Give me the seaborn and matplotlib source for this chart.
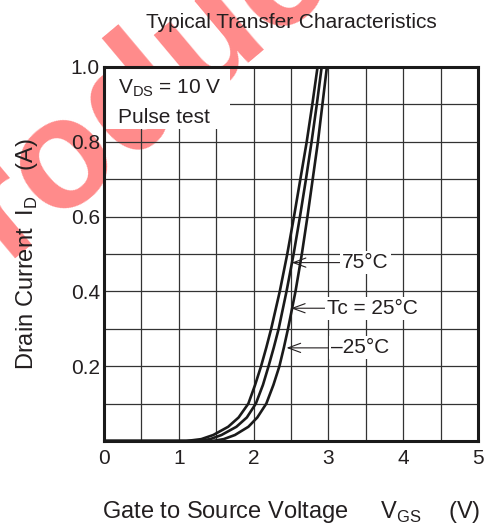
import numpy as np
import pandas as pd
import matplotlib
matplotlib.use('Agg')
import matplotlib.pyplot as plt
import seaborn as sns
from matplotlib.patches import Rectangle

# Данные (ток стока, А и напряжение затвор-исток, В)
current = [0, 0, 0.005, 0.016, 0.038, 0.063, 0.1, 0.15, 0.2, 0.25, 0.3, 0.4, 0.5, 0.6, 0.7, 0.8, 0.9, 1.0]
vgs_75 = [0, 1.10, 1.30, 1.46, 1.66, 1.80, 1.93, 2.02, 2.10, 2.17, 2.235, 2.35, 2.45, 2.54, 2.625, 2.71, 2.785, 2.855]
vgs_25 = [0, 1.25, 1.42, 1.57, 1.77, 1.91, 2.03, 2.125, 2.20, 2.27, 2.335, 2.44, 2.535, 2.62, 2.70, 2.775, 2.845, 2.91]
vgs_m25 = [0, 1.45, 1.60, 1.75, 1.93, 2.05, 2.17, 2.265, 2.345, 2.405, 2.46, 2.56, 2.645, 2.72, 2.79, 2.86, 2.92, 2.98]

temps = ['75°C', 'Tc = 25°C', '–25°C']
x_ticks = [0, 1, 2, 3, 4, 5]
y_ticks = [0.2, 0.4, 0.6, 0.8, 1.0]
y_tick_labels = ['0.2', '0.4', '0.6', '0.8', '1.0']

# Подписи со стрелками: x текста, y, x острия
label_x = [3.18, 2.98, 3.04]
label_y = [0.477, 0.355, 0.249]
tip_x = [2.51, 2.50, 2.44]

df = pd.DataFrame({
    'vgs': vgs_75 + vgs_25 + vgs_m25,
    'id': current * 3,
    'temp': [temps[0]] * len(current) + [temps[1]] * len(current) + [temps[2]] * len(current),
})

sns.set_style('white')
plt.rcParams['font.family'] = ['Liberation Sans', 'DejaVu Sans']
plt.rcParams['mathtext.fontset'] = 'custom'
plt.rcParams['mathtext.rm'] = 'Liberation Sans'
text_color = '#231f20'

fig = plt.figure(figsize=(4.87, 5.26), dpi=100)
fig.patch.set_facecolor('white')
ax = fig.add_axes([104 / 487, 85 / 526, 374 / 487, 374 / 526])
ax.set_facecolor('none')

# Водяной знак
fig.text(125 / 487, 1 - 105 / 526, 'Product', rotation=40, fontsize=112, fontweight='bold',
         color='#ff2a2a', alpha=0.55, ha='center', va='center', zorder=-5)

sns.lineplot(data=df, x='vgs', y='id', hue='temp', palette=['#1a1a1a'] * 3,
             sort=False, estimator=None, legend=False, lw=1.9, ax=ax, zorder=2)

ax.set_xlim(0, 5)
ax.set_ylim(0, 1.0)
ax.set_xticks(x_ticks)
ax.set_xticklabels([str(t) for t in x_ticks])
ax.set_xticks(np.arange(0, 5.01, 0.5), minor=True)
ax.set_yticks(y_ticks)
ax.set_yticklabels(y_tick_labels)
ax.set_yticks(np.arange(0, 1.001, 0.1), minor=True)
ax.grid(which='both', color='#333333', lw=0.9)
ax.set_axisbelow(True)
ax.tick_params(which='both', length=0, labelsize=15, colors=text_color)
ax.tick_params(axis='x', pad=6)
ax.tick_params(axis='y', pad=3)
for s in ax.spines.values():
    s.set_linewidth(2.2)
    s.set_color('#1a1a1a')

ax.set_title('Typical Transfer Characteristics', fontsize=15, color=text_color, pad=28)
ax.set_xlabel('Gate to Source Voltage$\\quad\\;\\,$V$_\\mathregular{GS}$$\\quad\\,$(V)', fontsize=17,
              color=text_color, labelpad=22)
ax.set_ylabel('Drain Current$\\;\\;$I$_\\mathregular{D}$$\\;\\;\\;\\;$(A)', fontsize=17,
              color=text_color, labelpad=22)

# Белая плашка с условиями измерения
ax.add_patch(Rectangle((0, 0.835), 1.68, 0.165, facecolor='white', edgecolor='none', zorder=2.2))
ax.text(0.187, 0.930, 'V$_\\mathregular{DS}$ = 10 V', fontsize=15, color=text_color,
        va='baseline', zorder=2.3)
ax.text(0.187, 0.850, 'Pulse test', fontsize=15, color=text_color, va='baseline', zorder=2.3)

for t, lx, ly, tx in zip(temps, label_x, label_y, tip_x):
    ax.annotate(t, xy=(tx, ly), xytext=(lx, ly), fontsize=15, color=text_color,
                va='center', ha='left', zorder=2.3,
                bbox=dict(boxstyle='square,pad=0.1', facecolor='white', edgecolor='none'),
                arrowprops=dict(arrowstyle='->,head_length=0.6,head_width=0.22', lw=0.8,
                                color=text_color, shrinkA=0, shrinkB=0))

fig.savefig('out.png', dpi=100)
